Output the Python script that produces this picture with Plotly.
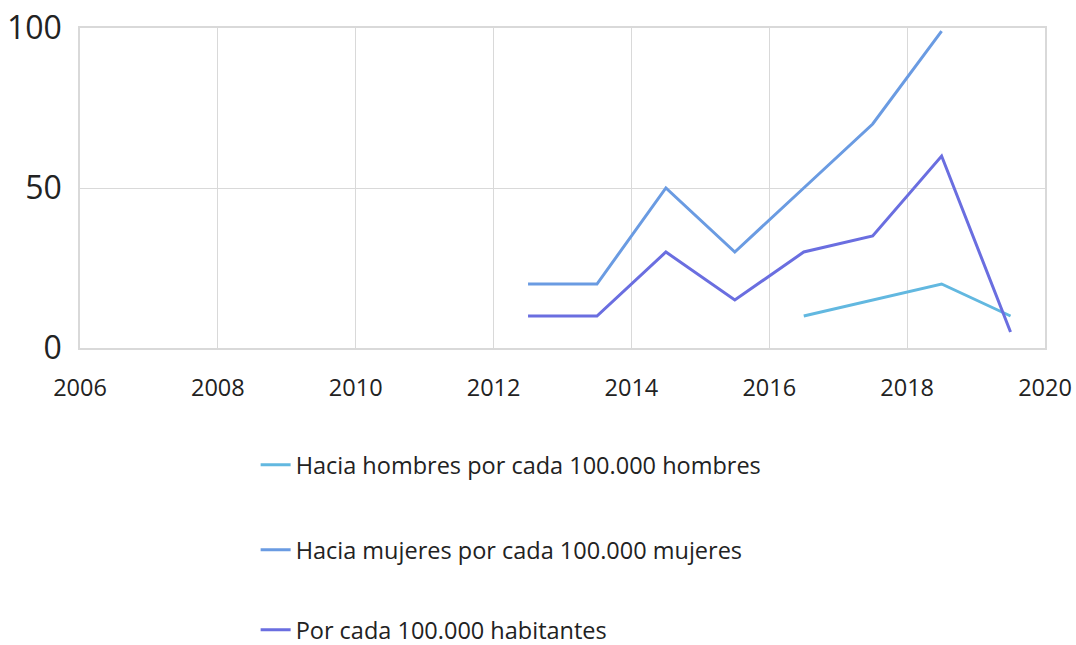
import plotly.graph_objects as go

years = [2012.5, 2013.5, 2014.5, 2015.5, 2016.5, 2017.5, 2018.5, 2019.5]
hombres = [None, None, None, None, 10, 15, 20, 10]
mujeres = [20, 20, 50, 30, 50, 70, 99, None]
habitantes = [10, 10, 30, 15, 30, 35, 60, 5]

names = ["Hacia hombres por cada 100.000 hombres",
         "Hacia mujeres por cada 100.000 mujeres",
         "Por cada 100.000 habitantes"]
colors = ["#62b8e0", "#6a9be2", "#6a6ee0"]
series = [hombres, mujeres, habitantes]
x_ticks = [2006, 2008, 2010, 2012, 2014, 2016, 2018, 2020]
y_ticks = [0, 50, 100]

fig = go.Figure()
legend_ids = ["legend", "legend2", "legend3"]
for name, col, vals, lg in zip(names, colors, series, legend_ids):
    fig.add_trace(go.Scatter(x=years, y=vals, name=name, mode="lines",
                             line=dict(color=col, width=3), legend=lg,
                             connectgaps=False, showlegend=True))

font_family = "Open Sans"
grid = "#d9d9d9"
leg_common = dict(xanchor="left", yanchor="middle", bgcolor="rgba(0,0,0,0)",
                  font=dict(size=23.5, color="#222", family=font_family))
lx = 0.182
fig.update_layout(
    width=1076, height=645,
    margin=dict(l=80, r=31, t=28, b=297, autoexpand=False),
    paper_bgcolor="white", plot_bgcolor="white",
    showlegend=True,
    font=dict(family=font_family, color="#222"),
    xaxis=dict(range=[2006, 2020], tickvals=x_ticks, showgrid=True, gridcolor=grid,
               gridwidth=1, showline=True, mirror=True, linecolor=grid, linewidth=1.5,
               zeroline=False, tickfont=dict(size=23.5, color="#222"), ticks="",
               ticklabelstandoff=18, automargin=False, ticklabeloverflow="allow"),
    yaxis=dict(range=[0, 100], tickvals=y_ticks, showgrid=True, gridcolor=grid,
               gridwidth=1, showline=True, mirror=True, linecolor=grid, linewidth=1.5,
               zeroline=False, tickfont=dict(size=32, color="#222"), ticks="",
               ticklabelstandoff=10, automargin=False, ticklabeloverflow="allow"),
    legend=dict(x=lx, y=(348 - 465) / 320, **leg_common),
    legend2=dict(x=lx, y=(348 - 550) / 320, **leg_common),
    legend3=dict(x=lx, y=(348 - 630) / 320, **leg_common),
)

fig.write_html("out.html", config={"displayModeBar": False},
               post_script="document.body.style.margin='0';document.body.style.overflow='hidden';")
